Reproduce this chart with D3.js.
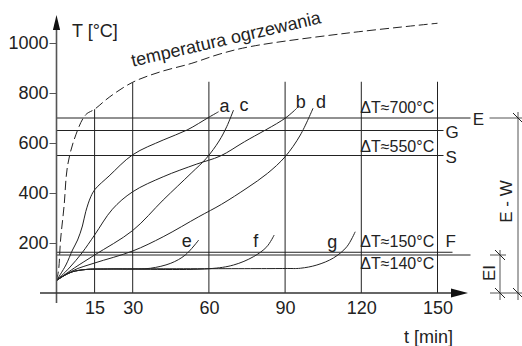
<!DOCTYPE html>
<html>
<head>
<meta charset="utf-8">
<script src="https://cdn.jsdelivr.net/npm/d3@7"></script>
<style>
  html, body { margin: 0; padding: 0; background: #fff; }
  svg { display: block; font-family: "Liberation Sans", Arial, sans-serif; }
</style>
</head>
<body>
<div id="chart"></div>
<script>
// t in minutes, T in °C
const timeTicks = [15, 30, 60, 90, 120, 150];
const tempTicks = [200, 400, 600, 800, 1000];

const heating = [[0,50],[0.8,90],[1.6,212],[3,350],[4.3,505],[7,615],[11.4,712],[15,735],[21,785],[30,843],[41,885],[53,918],[64,955],[76,985],[114,1039],[150,1079]];

const curveA = [[0,50],[3.7,112],[6.3,172],[8.3,212],[10.2,268],[11.5,325],[13.5,385],[15.2,415],[20.7,468],[30,553],[42,612],[51.4,652],[60,703],[63.8,725]];
const curveB = [[0,50],[5,100],[10,160],[15,232],[22,335],[30,405],[42,465],[55,515],[64.5,548],[74,605],[90,699],[94.6,739]];
const curveC = [[0,50],[7,100],[15,152],[30,250],[42,372],[53,479],[59,539],[64,608],[67,665],[69.7,732]];
const curveD = [[0,50],[7,92],[15,120],[30,168],[42,225],[56,305],[65,355],[75,420],[83,478],[90,545],[96,632],[101,739]];
const curveE = [[0,50],[3,70],[6.3,85],[11.5,94],[20,96],[30,96],[37,99],[45,119],[50.7,152],[56,212]];
const curveF = [[0,50],[3,70],[6.3,85],[11.5,94],[20,96],[60,97],[69.7,112],[77.5,145],[82.8,185],[85.7,232]];
const curveG = [[0,50],[3,70],[6.3,85],[11.5,94],[20,96],[90,98],[96,99],[102.5,112],[109,140],[114.3,185],[117.6,245]];
const curveNames = ["a", "b", "c", "d", "e", "f", "g"];

const levelTemps = [700, 650, 550, 163, 152];
const levelNames = ["E", "G", "S", "F", ""];
const deltaTexts = ["ΔT≈700°C", "ΔT≈550°C", "ΔT≈150°C", "ΔT≈140°C"];
const deltaTemps = [700, 550, 163, 152];
const gridTop = 845;

const W = 522, H = 346;
const ink = "#222", grey = "#555";

const x = d3.scaleLinear().domain([0, 150]).range([56.5, 437.5]);
const y = d3.scaleLinear().domain([0, 1000]).range([293, 43]);

const svg = d3.select("#chart").append("svg")
  .attr("width", W).attr("height", H);

// heating temperature at t (only used to stop grid lines at the dashed curve)
const heatAt = t => {
  const i = d3.bisector(d => d[0]).left(heating, t);
  if (i <= 0) return heating[0][1];
  const p = heating[i - 1], q = heating[i];
  return p[1] + (q[1] - p[1]) * (t - p[0]) / (q[0] - p[0]);
};

// vertical grid
svg.append("g").selectAll("line")
  .data(timeTicks)
  .join("line")
  .attr("x1", d => x(d)).attr("x2", d => x(d))
  .attr("y1", y(0))
  .attr("y2", d => y(Math.min(gridTop, heatAt(d))))
  .attr("stroke", ink).attr("stroke-width", 1);

// horizontal level lines
const endPad = [33, 6, 6, 15, 33];
svg.append("g").selectAll("line")
  .data(levelTemps)
  .join("line")
  .attr("x1", x(0))
  .attr("x2", (d, i) => x(150) + endPad[i])
  .attr("y1", d => y(d)).attr("y2", d => y(d))
  .attr("stroke", ink).attr("stroke-width", 1);

// level names
levelTemps.forEach((t, i) => {
  const n = levelNames[i];
  if (!n) return;
  const tx = svg.append("text").text(n)
    .attr("font-size", 17).attr("fill", ink);
  if (n === "E") {
    tx.attr("x", x(150) + 41).attr("y", y(t) + 1)
      .attr("text-anchor", "middle").attr("dominant-baseline", "central");
  } else if (n === "F") {
    tx.attr("x", x(150) + 8).attr("y", y(t) - 5);
  } else {
    tx.attr("x", x(150) + 8).attr("y", y(t) + 2).attr("dominant-baseline", "central");
  }
});

// delta labels
const deltaDy = [-5, -4, -5, 14];
deltaTexts.forEach((s, i) => {
  svg.append("text")
    .attr("x", x(120) - 1)
    .attr("y", y(deltaTemps[i]) + deltaDy[i])
    .attr("font-size", 16).attr("fill", ink)
    .text(s);
});

// curves
const line = d3.line()
  .x(d => x(d[0])).y(d => y(d[1]))
  .curve(d3.curveCatmullRom.alpha(0.5));

const curves = [curveA, curveB, curveC, curveD, curveE, curveF, curveG];
svg.append("g").selectAll("path")
  .data(curves)
  .join("path")
  .attr("d", line)
  .attr("fill", "none")
  .attr("stroke", ink).attr("stroke-width", 1);

// curve labels, nudged per label
const labelNudge = { a: [1, 0, "start"], b: [-1, 0, "start"], c: [6, 1, "start"], d: [3, 0, "start"],
                     e: [-7, 7, "end"], f: [-16, 12, "end"], g: [-18, 16, "end"] };
curves.forEach((c, i) => {
  const last = c[c.length - 1];
  const n = curveNames[i];
  svg.append("text")
    .attr("x", x(last[0]) + labelNudge[n][0])
    .attr("y", y(last[1]) + labelNudge[n][1])
    .attr("text-anchor", labelNudge[n][2])
    .attr("font-size", 18).attr("fill", ink)
    .text(n);
});

// heating curve (dashed)
svg.append("path")
  .datum(heating)
  .attr("d", line)
  .attr("fill", "none")
  .attr("stroke", ink).attr("stroke-width", 1)
  .attr("stroke-dasharray", "9,4");

svg.append("text")
  .attr("transform", `translate(${x(30)},${y(845) - 15}) rotate(-13)`)
  .attr("font-size", 18).attr("fill", ink)
  .text("temperatura ogrzewania");

// axes
const yAxis = svg.append("g")
  .attr("transform", `translate(${x(0)},0)`)
  .call(d3.axisLeft(y).tickValues(tempTicks).tickFormat(d3.format("d")).tickSize(7).tickPadding(1));
yAxis.select(".domain").remove();
yAxis.selectAll("line").attr("stroke", grey);
yAxis.selectAll("text").attr("font-size", 18).attr("fill", ink)
  .style("font-family", "Liberation Sans, Arial, sans-serif");

const xAxis = svg.append("g")
  .attr("transform", `translate(0,${y(0)})`)
  .call(d3.axisBottom(x).tickValues(timeTicks).tickSize(0).tickPadding(8));
xAxis.select(".domain").remove();
xAxis.selectAll("text").attr("font-size", 18).attr("fill", ink)
  .style("font-family", "Liberation Sans, Arial, sans-serif");

// axis lines with arrows
svg.append("line")
  .attr("x1", x(0)).attr("x2", x(0))
  .attr("y1", 303).attr("y2", 28)
  .attr("stroke", grey).attr("stroke-width", 1.6);
svg.append("path")
  .attr("d", `M${x(0)},15 L${x(0) - 3.6},30 L${x(0) + 3.6},30 Z`)
  .attr("fill", "#111");
svg.append("line")
  .attr("x1", 40).attr("x2", 453)
  .attr("y1", y(0)).attr("y2", y(0))
  .attr("stroke", "#333").attr("stroke-width", 1.4);
svg.append("path")
  .attr("d", `M468,${y(0)} L451,${y(0) - 4.5} L451,${y(0) + 4.5} Z`)
  .attr("fill", "#111");

svg.append("text")
  .attr("x", 72).attr("y", 37)
  .attr("font-size", 18).attr("fill", ink)
  .text("T [°C]");
svg.append("text")
  .attr("x", 453).attr("y", 343)
  .attr("text-anchor", "end")
  .attr("font-size", 18).attr("fill", ink)
  .text("t [min]");

// dimension lines on the right
const dim = svg.append("g").attr("stroke", grey).attr("stroke-width", 1);
dim.append("line").attr("x1", x(150) + 52).attr("x2", W).attr("y1", y(700)).attr("y2", y(700));
dim.append("line").attr("x1", 490).attr("x2", W).attr("y1", y(0)).attr("y2", y(0));
dim.append("line").attr("x1", 490).attr("x2", 506).attr("y1", y(152)).attr("y2", y(152));
dim.append("line").attr("x1", 518).attr("x2", 518).attr("y1", y(700) - 6).attr("y2", 300);
dim.append("line").attr("x1", 500).attr("x2", 500).attr("y1", y(152) - 5).attr("y2", 300);
[[518, y(700)], [518, y(0)], [500, y(152)], [500, y(0)]].forEach(([cx, cy]) => {
  dim.append("line")
    .attr("x1", cx - 5).attr("y1", cy - 5)
    .attr("x2", cx + 5).attr("y2", cy + 5)
    .attr("stroke", ink);
});

svg.append("text")
  .attr("transform", `translate(512,${(y(700) + y(0)) / 2 - 4}) rotate(-90)`)
  .attr("text-anchor", "middle")
  .attr("font-size", 17).attr("fill", ink)
  .text("E - W");
svg.append("text")
  .attr("transform", `translate(495,${(y(152) + y(0)) / 2 - 1}) rotate(-90)`)
  .attr("text-anchor", "middle")
  .attr("font-size", 17).attr("fill", ink)
  .text("EI");
</script>
</body>
</html>
